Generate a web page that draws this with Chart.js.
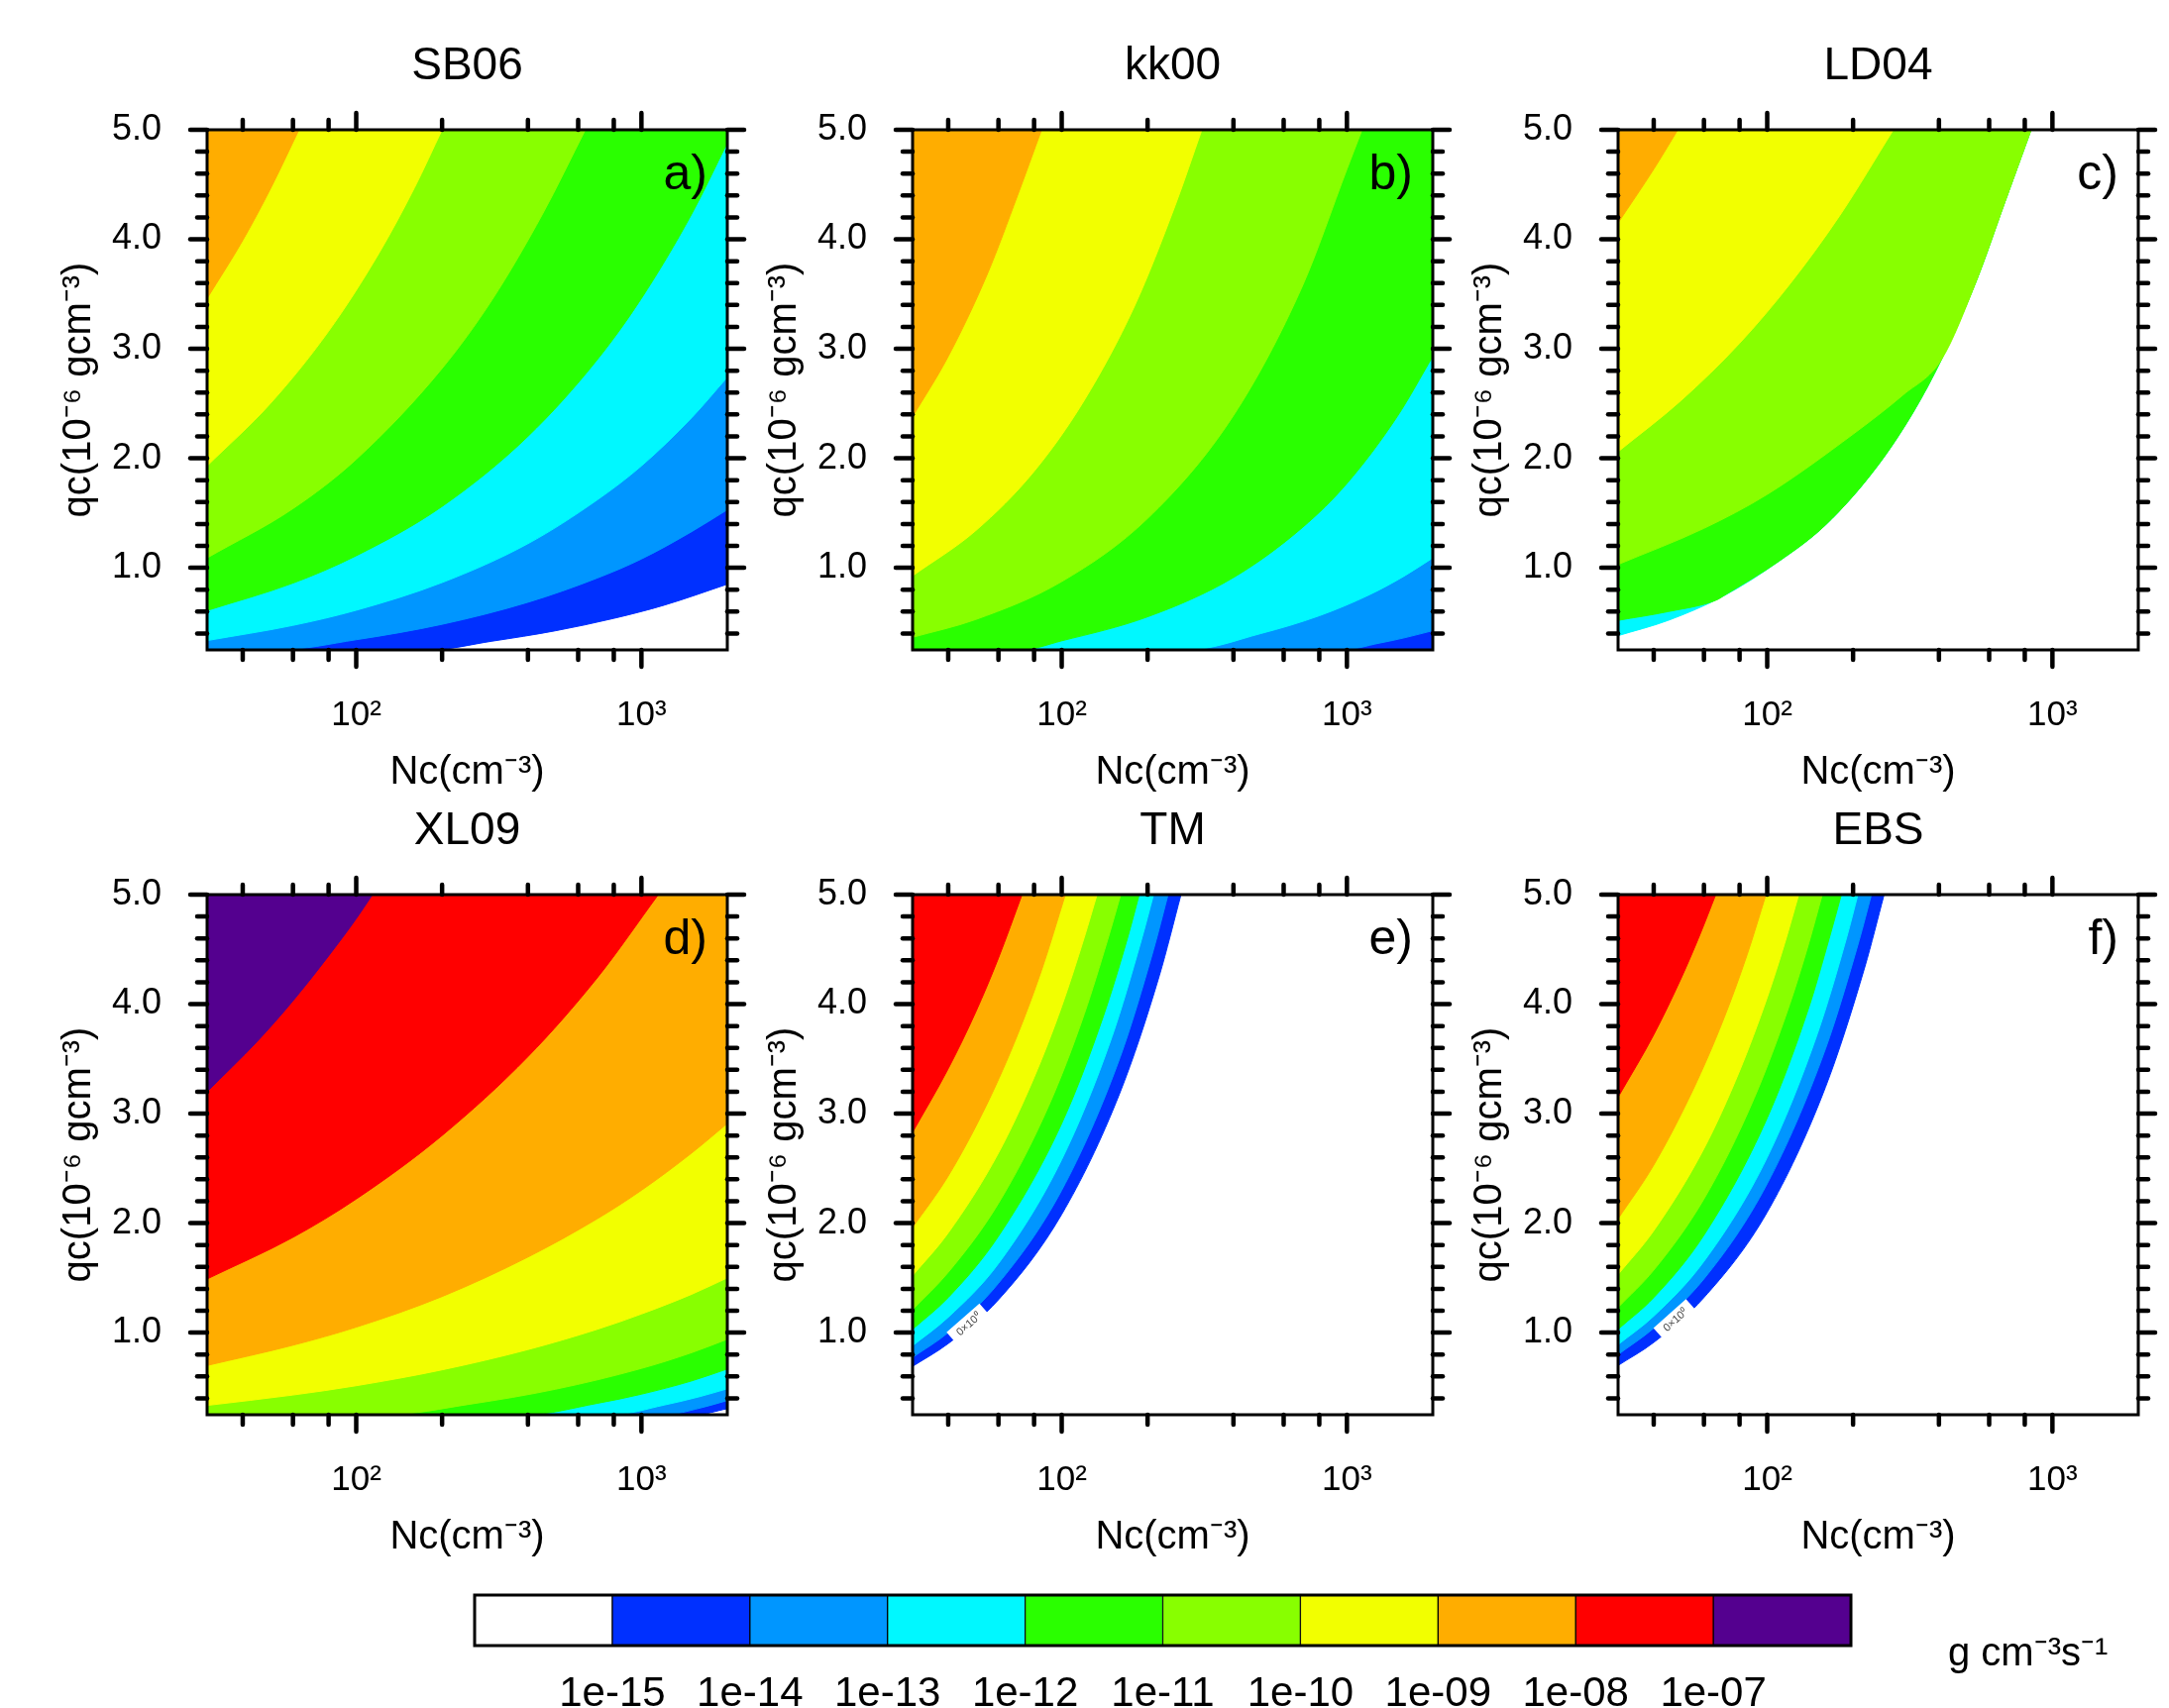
<!DOCTYPE html>
<html>
<head>
<meta charset="utf-8">
<script src="https://cdn.jsdelivr.net/npm/chart.js@4.4.1/dist/chart.umd.min.js"></script>
<style>
  html, body { margin: 0; padding: 0; background: #fff; width: 2189px; height: 1724px; overflow: hidden; position: relative; }
  canvas { position: absolute; }
</style>
</head>
<body>
<canvas id="pa" width="732" height="816" style="left:29px;top:0px"></canvas>
<canvas id="pb" width="732" height="816" style="left:741px;top:0px"></canvas>
<canvas id="pc" width="732" height="816" style="left:1453px;top:0px"></canvas>
<canvas id="pd" width="732" height="816" style="left:29px;top:772px"></canvas>
<canvas id="pe" width="732" height="816" style="left:741px;top:772px"></canvas>
<canvas id="pf" width="732" height="816" style="left:1453px;top:772px"></canvas>
<canvas id="cbar" width="2189" height="134" style="left:0px;top:1590px"></canvas>
<script>
// ---- contour levels and shading (band i lies between level i-1 and level i) ----
const levelLabels = ['1e-15', '1e-14', '1e-13', '1e-12', '1e-11', '1e-10', '1e-09', '1e-08', '1e-07'];
const bandColors = ['#ffffff', '#0030ff', '#0096ff', '#00f8ff', '#2aff00', '#88ff00',
                    '#f2ff00', '#ffad00', '#ff0000', '#54008f'];

// ---- axis ticks ----
const ncMajor = [100, 1000];
const ncLabels = ['10²', '10³'];
const ncMinor = [40, 60, 80, 200, 400, 600, 800];
const qcMajor = [1, 2, 3, 4, 5];
const qcMinor = [0.4, 0.6, 0.8, 1.2, 1.4, 1.6, 1.8, 2.2, 2.4, 2.6, 2.8,
                 3.2, 3.4, 3.6, 3.8, 4.2, 4.4, 4.6, 4.8];

// ---- contour lines, [Nc (cm-3), qc (1e-6 g cm-3)] ; name suffix = exponent of the level ----
// SB06
const sb06_e09 = [[30, 3.46], [40, 3.99], [50, 4.46], [63, 5.0]];
const sb06_e10 = [[30, 1.93], [50, 2.50], [80, 3.16], [120, 3.87], [160, 4.47], [200, 5.0]];
const sb06_e11 = [[30, 1.09], [60, 1.54], [100, 1.99], [200, 2.82], [300, 3.45], [450, 4.23], [636, 5.0]];
const sb06_e12 = [[30, 0.61], [60, 0.86], [100, 1.11], [200, 1.56], [400, 2.20], [700, 2.90], [1000, 3.46], [1500, 4.23], [2000, 4.88]];
const sb06_e13 = [[30, 0.335], [60, 0.474], [100, 0.612], [200, 0.865], [400, 1.22], [700, 1.62], [1000, 1.93], [1500, 2.37], [2000, 2.74]];
const sb06_e14 = [[30, 0.25], [53, 0.25], [100, 0.343], [200, 0.484], [400, 0.685], [700, 0.906], [1000, 1.08], [1500, 1.33], [2000, 1.53]];
const sb06_e15 = [[30, 0.25], [180, 0.25], [300, 0.33], [500, 0.425], [800, 0.538], [1200, 0.658], [2000, 0.85]];

// KK00
const kk00_e09 = [[30, 2.38], [40, 2.93], [55, 3.69], [70, 4.40], [85, 5.0]];
const kk00_e10 = [[30, 0.926], [50, 1.34], [80, 1.88], [120, 2.53], [180, 3.39], [250, 4.31], [310, 5.0]];
const kk00_e11 = [[30, 0.365], [50, 0.528], [100, 0.874], [200, 1.45], [400, 2.39], [700, 3.58], [1000, 4.64], [1130, 5.0]];
const kk00_e12 = [[30, 0.25], [72, 0.25], [100, 0.333], [200, 0.552], [400, 0.911], [700, 1.37], [1000, 1.77], [1500, 2.38], [2000, 2.93]];
const kk00_e13 = [[30, 0.25], [275, 0.25], [500, 0.40], [800, 0.562], [1200, 0.754], [1600, 0.929], [2000, 1.09]];
const kk00_e14 = [[30, 0.25], [960, 0.25], [1300, 0.312], [1600, 0.362], [2000, 0.426]];
const kk00_e15 = [[30, 0.25], [2000, 0.25]];

// LD04 (values end at the edge of the valid region)
const ld04_e09 = [[30, 4.15], [40, 4.64], [48.6, 5.0]];
const ld04_e10 = [[30, 2.06], [50, 2.53], [80, 3.05], [120, 3.59], [180, 4.22], [277, 5.0]];
const ld04_e11 = [[30, 1.03], [60, 1.36], [100, 1.67], [200, 2.22], [300, 2.58], [408, 2.90]];
const ld04_e12 = [[30, 0.52], [45, 0.60], [67, 0.71]];
const ld04_edge = [[30, 0.38], [45, 0.52], [70, 0.74], [110, 1.06], [160, 1.39], [242, 1.92], [325, 2.42], [408, 2.90], [541, 3.62], [679, 4.33], [842, 5.0]];

// XL09
const xl09_e07 = [[30, 3.20], [45, 3.66], [60, 4.03], [80, 4.44], [100, 4.78], [114, 5.0]];
const xl09_e08 = [[30, 1.49], [60, 1.87], [100, 2.22], [200, 2.80], [400, 3.52], [700, 4.24], [1146, 5.0]];
const xl09_e09 = [[30, 0.70], [60, 0.885], [100, 1.05], [200, 1.33], [400, 1.69], [700, 2.04], [1000, 2.30], [1500, 2.64], [2000, 2.91]];
const xl09_e10 = [[30, 0.335], [60, 0.43], [100, 0.515], [200, 0.66], [400, 0.845], [700, 1.03], [1000, 1.17], [1500, 1.35], [2000, 1.50]];
const xl09_e11 = [[30, 0.25], [127, 0.25], [250, 0.346], [500, 0.483], [1000, 0.673], [1500, 0.817], [2000, 0.94]];
const xl09_e12 = [[30, 0.25], [392, 0.25], [700, 0.354], [1000, 0.438], [1500, 0.559], [2000, 0.668]];
const xl09_e13 = [[30, 0.25], [787, 0.25], [1200, 0.338], [1600, 0.415], [2000, 0.487]];
const xl09_e14 = [[30, 0.25], [1208, 0.25], [1600, 0.31], [2000, 0.38]];
const xl09_e15 = [[30, 0.25], [1540, 0.25], [2000, 0.305]];

// TM
const tm_e08 = [[30, 2.83], [40, 3.41], [50, 3.93], [60, 4.42], [72.6, 5.0]];
const tm_e09 = [[30, 1.96], [40, 2.43], [55, 3.10], [70, 3.72], [85, 4.31], [103, 5.0]];
const tm_e10 = [[30, 1.52], [40, 1.91], [60, 2.64], [80, 3.33], [100, 3.98], [120, 4.61], [133, 5.0]];
const tm_e11 = [[30, 1.21], [40, 1.55], [60, 2.18], [90, 3.07], [120, 3.91], [145, 4.59], [161, 5.0]];
const tm_e12 = [[30, 1.03], [40, 1.32], [60, 1.88], [100, 2.91], [140, 3.89], [170, 4.60], [187, 5.0]];
const tm_e13 = [[30, 0.88], [40, 1.14], [60, 1.63], [100, 2.58], [150, 3.70], [190, 4.58], [210, 5.0]];
const tm_e14 = [[30, 0.774], [40, 1.00], [60, 1.45], [100, 2.30], [160, 3.51], [210, 4.50], [236, 5.0]];
const tm_e15 = [[30, 0.692], [40, 0.90], [60, 1.30], [100, 2.08], [160, 3.19], [220, 4.26], [262, 5.0]];

// EBS
const ebs_e08 = [[30, 3.15], [40, 3.72], [50, 4.24], [58, 4.63], [66, 5.0]];
const ebs_e09 = [[30, 2.04], [40, 2.53], [55, 3.22], [70, 3.85], [85, 4.45], [99, 5.0]];
const ebs_e10 = [[30, 1.53], [40, 1.93], [60, 2.68], [80, 3.39], [100, 4.06], [115, 4.55], [129, 5.0]];
const ebs_e11 = [[30, 1.23], [40, 1.57], [60, 2.22], [90, 3.14], [120, 4.00], [140, 4.56], [156, 5.0]];
const ebs_e12 = [[30, 1.03], [40, 1.32], [60, 1.89], [100, 2.96], [140, 3.97], [165, 4.60], [182, 5.0]];
const ebs_e13 = [[30, 0.89], [40, 1.15], [60, 1.65], [100, 2.60], [150, 3.73], [190, 4.61], [208, 5.0]];
const ebs_e14 = [[30, 0.80], [40, 1.04], [60, 1.49], [100, 2.36], [160, 3.59], [210, 4.58], [232, 5.0]];
const ebs_e15 = [[30, 0.70], [40, 0.91], [60, 1.32], [100, 2.10], [160, 3.24], [220, 4.34], [257, 5.0]];

// in-line contour labels [Nc, qc]
const tmLabelAt = [47, 1.08];
const ebsLabelAt = [47.5, 1.12];
const contourLabelText = '0×10⁰';

const FONT = "'Liberation Sans', Arial, Helvetica, sans-serif";

// band index shaded above a level 1e-k
const bandAbove = k => 16 - k;
const toPts = arr => arr.map(p => ({ x: p[0], y: p[1] }));

// frame, outward ticks on all four sides, panel tag and optional contour label
function panelDecor(tag, labelAt, labelCurve) {
  return {
    id: 'panelDecor',
    afterLayout(chart) {
      // centre the panel title over the plotting area
      const tb = chart.titleBlock;
      if (tb) { tb.left = chart.chartArea.left; tb.right = chart.chartArea.right; }
    },
    afterDatasetsDraw(chart) {
      if (!labelAt) return;
      const { ctx, scales: { x, y } } = chart;
      const px = x.getPixelForValue(labelAt[0]);
      const py = y.getPixelForValue(labelAt[1]);
      const x1 = x.getPixelForValue(labelCurve[1][0]), y1 = y.getPixelForValue(labelCurve[1][1]);
      const x2 = x.getPixelForValue(labelCurve[2][0]), y2 = y.getPixelForValue(labelCurve[2][1]);
      const ang = Math.atan2(y2 - y1, x2 - x1);
      ctx.save();
      ctx.translate(px, py);
      ctx.rotate(ang);
      ctx.fillStyle = '#fff';
      ctx.fillRect(-22, -8, 44, 16);
      ctx.fillStyle = '#444';
      ctx.font = `11px ${FONT}`;
      ctx.textAlign = 'center';
      ctx.textBaseline = 'middle';
      ctx.fillText(contourLabelText, 0, 1);
      ctx.restore();
    },
    afterDraw(chart) {
      const { ctx, chartArea: a, scales: { x, y } } = chart;
      ctx.save();
      ctx.strokeStyle = '#000';
      ctx.lineWidth = 3;
      ctx.strokeRect(a.left, a.top, a.right - a.left, a.bottom - a.top);
      ctx.lineWidth = 4.5;
      ctx.lineCap = 'round';
      const seg = (x0, y0, x1, y1) => { ctx.beginPath(); ctx.moveTo(x0, y0); ctx.lineTo(x1, y1); ctx.stroke(); };
      [[ncMajor, 17], [ncMinor, 10]].forEach(([vals, len]) => vals.forEach(v => {
        const p = x.getPixelForValue(v);
        seg(p, a.bottom, p, a.bottom + len);
        seg(p, a.top, p, a.top - len);
      }));
      [[qcMajor, 17], [qcMinor, 10]].forEach(([vals, len]) => vals.forEach(v => {
        const p = y.getPixelForValue(v);
        seg(a.left, p, a.left - len, p);
        seg(a.right, p, a.right + len, p);
      }));
      ctx.fillStyle = '#000';
      ctx.font = `50px ${FONT}`;
      ctx.textAlign = 'right';
      ctx.textBaseline = 'alphabetic';
      ctx.fillText(tag, a.right - 20, a.top + 60);
      ctx.restore();
    }
  };
}

// contours: list of [band index, points], lowest band first
function makePanel(id, title, tag, contours, labelAt, labelCurve) {
  const datasets = contours.slice().reverse().map(([band, pts]) => ({
    data: toPts(pts),
    backgroundColor: bandColors[band],
    borderColor: bandColors[band],
    borderWidth: 1,
    pointRadius: 0,
    fill: 'end',
    cubicInterpolationMode: 'monotone'
  }));
  new Chart(document.getElementById(id), {
    type: 'line',
    data: { datasets },
    options: {
      responsive: false,
      animation: false,
      events: [],
      layout: { padding: { left: 0, right: 27, top: 0, bottom: 0 } },
      plugins: {
        legend: { display: false },
        tooltip: { enabled: false },
        title: {
          display: true, text: title, color: '#000',
          font: { family: FONT, size: 46, weight: 'normal', lineHeight: 1.2 },
          padding: { top: 40, bottom: 35.8 }
        }
      },
      scales: {
        x: {
          type: 'logarithmic', min: 30, max: 2000,
          grid: { display: false }, border: { display: false },
          afterBuildTicks: s => { s.ticks = ncMajor.map(v => ({ value: v })); },
          afterFit: s => { s.height = 160; },
          ticks: {
            padding: 37, color: '#000', maxRotation: 0, autoSkip: false,
            font: { family: FONT, size: 35 },
            callback: (v, i) => ncLabels[i]
          },
          title: {
            display: true, text: 'Nc(cm⁻³)', color: '#000',
            font: { family: FONT, size: 40, lineHeight: 1.2 },
            padding: { top: 0, bottom: 12 }
          }
        },
        y: {
          min: 0.25, max: 5,
          grid: { display: false }, border: { display: false },
          afterBuildTicks: s => { s.ticks = qcMajor.map(v => ({ value: v })); },
          afterFit: s => { s.width = 180; },
          ticks: {
            padding: 38, color: '#000', autoSkip: false,
            font: { family: FONT, size: 36 },
            callback: v => Number(v).toFixed(1)
          },
          title: {
            display: true, text: 'qc(10⁻⁶ gcm⁻³)', color: '#000',
            font: { family: FONT, size: 40, lineHeight: 1.2 },
            padding: { top: 27, bottom: 0 }
          }
        }
      }
    },
    plugins: [panelDecor(tag, labelAt, labelCurve)]
  });
}

makePanel('pa', 'SB06', 'a)', [
  [bandAbove(15), sb06_e15], [bandAbove(14), sb06_e14], [bandAbove(13), sb06_e13],
  [bandAbove(12), sb06_e12], [bandAbove(11), sb06_e11], [bandAbove(10), sb06_e10],
  [bandAbove(9), sb06_e09]
]);

makePanel('pb', 'kk00', 'b)', [
  [bandAbove(15), kk00_e15], [bandAbove(14), kk00_e14], [bandAbove(13), kk00_e13],
  [bandAbove(12), kk00_e12], [bandAbove(11), kk00_e11], [bandAbove(10), kk00_e10],
  [bandAbove(9), kk00_e09]
]);

// LD04: the lower bands are bounded by the edge of the valid region
makePanel('pc', 'LD04', 'c)', [
  [bandAbove(13), ld04_edge],
  [bandAbove(12), ld04_e12.concat(ld04_edge.filter(p => p[0] > 67))],
  [bandAbove(11), ld04_e11.concat(ld04_edge.filter(p => p[0] > 408))],
  [bandAbove(10), ld04_e10],
  [bandAbove(9), ld04_e09]
]);

makePanel('pd', 'XL09', 'd)', [
  [bandAbove(15), xl09_e15], [bandAbove(14), xl09_e14], [bandAbove(13), xl09_e13],
  [bandAbove(12), xl09_e12], [bandAbove(11), xl09_e11], [bandAbove(10), xl09_e10],
  [bandAbove(9), xl09_e09], [bandAbove(8), xl09_e08], [bandAbove(7), xl09_e07]
]);

makePanel('pe', 'TM', 'e)', [
  [bandAbove(15), tm_e15], [bandAbove(14), tm_e14], [bandAbove(13), tm_e13],
  [bandAbove(12), tm_e12], [bandAbove(11), tm_e11], [bandAbove(10), tm_e10],
  [bandAbove(9), tm_e09], [bandAbove(8), tm_e08]
], tmLabelAt, tm_e15);

makePanel('pf', 'EBS', 'f)', [
  [bandAbove(15), ebs_e15], [bandAbove(14), ebs_e14], [bandAbove(13), ebs_e13],
  [bandAbove(12), ebs_e12], [bandAbove(11), ebs_e11], [bandAbove(10), ebs_e10],
  [bandAbove(9), ebs_e09], [bandAbove(8), ebs_e08]
], ebsLabelAt, ebs_e15);

// ---- shared colour bar ----
new Chart(document.getElementById('cbar'), {
  type: 'bar',
  data: {
    labels: [''],
    datasets: bandColors.map(c => ({
      data: [1], backgroundColor: c, borderColor: '#000', borderWidth: 1,
      borderSkipped: false, barPercentage: 1, categoryPercentage: 1
    }))
  },
  options: {
    indexAxis: 'y',
    responsive: false,
    animation: false,
    events: [],
    layout: { padding: { left: 479, right: 321, top: 20, bottom: 0 } },
    plugins: { legend: { display: false }, tooltip: { enabled: false } },
    scales: {
      x: {
        stacked: true, min: 0, max: bandColors.length,
        grid: { display: false }, border: { display: false },
        afterBuildTicks: s => { s.ticks = levelLabels.map((_, i) => ({ value: i + 1 })); },
        afterFit: s => { s.height = 63; },
        ticks: {
          padding: 16, color: '#000', maxRotation: 0, autoSkip: false,
          font: { family: FONT, size: 42 },
          callback: (v, i) => levelLabels[i]
        }
      },
      y: { stacked: true, display: false }
    }
  },
  plugins: [{
    id: 'cbarDecor',
    afterDraw(chart) {
      const { ctx, chartArea: a } = chart;
      ctx.save();
      ctx.strokeStyle = '#000';
      ctx.lineWidth = 3;
      ctx.strokeRect(a.left, a.top, a.right - a.left, a.bottom - a.top);
      ctx.fillStyle = '#000';
      ctx.font = `40px ${FONT}`;
      ctx.textAlign = 'left';
      ctx.textBaseline = 'alphabetic';
      ctx.fillText('g cm⁻³s⁻¹', a.right + 98, a.bottom + 20);
      ctx.restore();
    }
  }]
});
</script>
</body>
</html>
